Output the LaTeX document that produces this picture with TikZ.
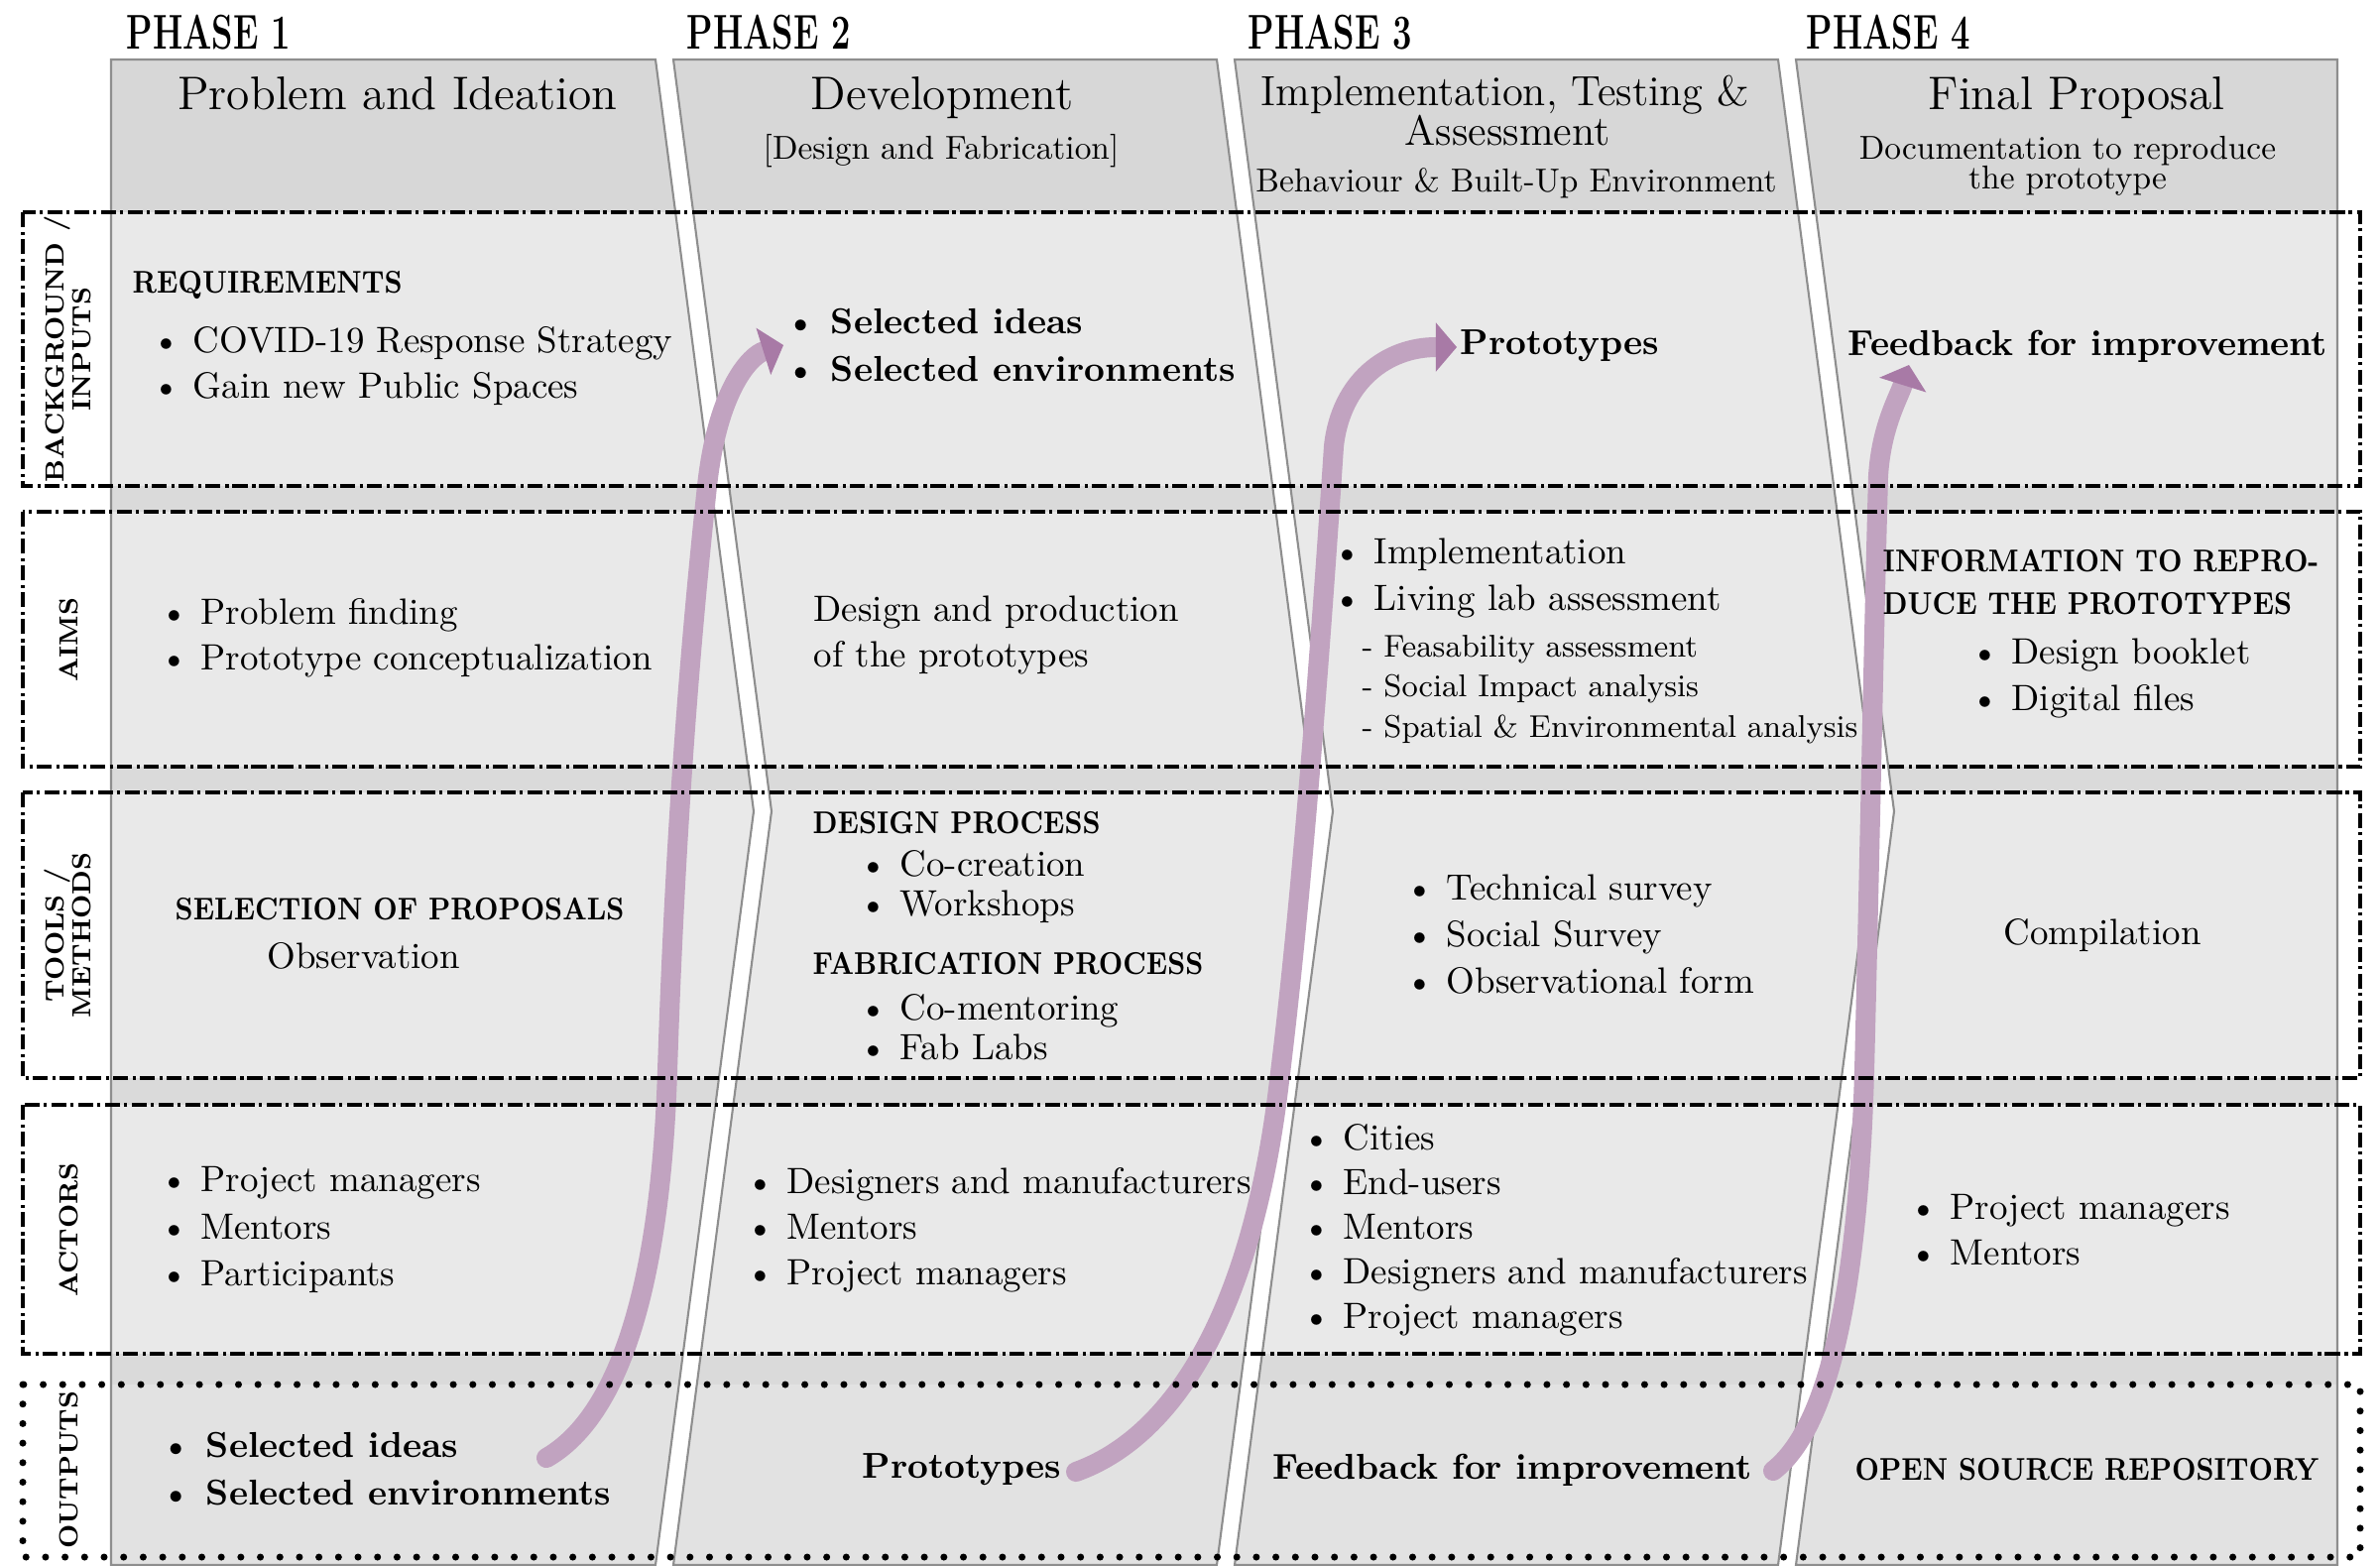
\documentclass[tikz,border=0pt]{standalone}
\usepackage{graphicx}
\usetikzlibrary{arrows.meta}

\definecolor{hdrgray}{HTML}{D7D7D7}
\definecolor{rowgray}{HTML}{E9E9E9}
\definecolor{bandgray}{HTML}{DADADA}
\definecolor{outgray}{HTML}{E2E2E2}
\definecolor{edgegray}{HTML}{8E8E8E}
\definecolor{shaftcol}{RGB}{193,163,192}
\definecolor{headcol}{RGB}{168,122,166}

\newcommand\bodyfont[1]{\fontsize{10.5}{#1}\selectfont}
\newcommand\boldfont[1]{\bfseries\fontsize{10.3}{#1}\selectfont}
\newcommand\capsfont[1]{\bfseries\fontsize{9}{#1}\selectfont}
% narrowed capitals
\newcommand\capsq[1]{\scalebox{0.87}[1]{#1}}
\newcommand\phasesq[1]{\scalebox{0.7}[1]{#1}}

\tikzset{
  dashdot/.style={line width=1pt, dash pattern=on 4.3pt off 1.4pt on 0.9pt off 1.1pt},
  dotline/.style={line width=2pt, line cap=round, dash pattern=on 0pt off 5.6pt},
  panel/.style={draw=edgegray, line width=0.6pt},
  flow/.style={draw=shaftcol, line width=5.7pt, line cap=round,
    -{Triangle[width=14pt,length=6pt,line width=0.4pt,fill=headcol,color=headcol]}},
  phase/.style={inner sep=0pt, anchor=base west, font=\bfseries\fontsize{14}{16}\selectfont},
  title/.style={inner sep=0pt, anchor=base, font=\fontsize{13.5}{15}\selectfont},
  titlethree/.style={inner sep=0pt, anchor=base, font=\fontsize{12.1}{14}\selectfont},
  subtitle/.style={inner sep=0pt, anchor=base, font=\fontsize{9.5}{11}\selectfont},
  rowlab/.style={inner sep=0pt, rotate=90, align=center, font=\bfseries\fontsize{7.5}{7.6}\selectfont},
  txt/.style={inner sep=0pt, anchor=west, align=left, font=\bodyfont{13.2pt}},
  btxt/.style={inner sep=0pt, anchor=west, align=left, font=\boldfont{13.7pt}},
  ctxt/.style={inner sep=0pt, anchor=west, align=left, font=\capsfont{12pt}},
  stxt/.style={inner sep=0pt, anchor=west, align=left, font=\fontsize{9}{11.5}\selectfont},
}

\begin{document}
\begin{tikzpicture}[x=0.01cm, y=-0.01cm]
\useasboundingbox (0,0) rectangle (2400,1578);
\fill[white] (0,0) rectangle (2400,1578);

% ---- the four phase columns, with chevron-shaped joints ----
\begin{scope}
  \clip (112,60) -- (661,60) -- (760,818) -- (661,1578) -- (112,1578) -- cycle
        (679,60) -- (1227,60) -- (1326,818) -- (1227,1578) -- (679,1578) -- (778,818) -- cycle
        (1245,60) -- (1793,60) -- (1892,818) -- (1793,1578) -- (1245,1578) -- (1344,818) -- cycle
        (1811,60) -- (2357,60) -- (2357,1578) -- (1811,1578) -- (1910,818) -- cycle;
  \fill[bandgray] (0,60) rectangle (2400,1578);
  \fill[hdrgray] (0,60) rectangle (2400,214);
  \fill[rowgray] (0,214) rectangle (2400,490);
  \fill[rowgray] (0,516) rectangle (2400,773);
  \fill[rowgray] (0,799) rectangle (2400,1087);
  \fill[rowgray] (0,1114) rectangle (2400,1365);
  \fill[outgray] (0,1396) rectangle (2400,1578);
\end{scope}
\path[panel] (112,60) -- (661,60) -- (760,818) -- (661,1578) -- (112,1578) -- cycle
        (679,60) -- (1227,60) -- (1326,818) -- (1227,1578) -- (679,1578) -- (778,818) -- cycle
        (1245,60) -- (1793,60) -- (1892,818) -- (1793,1578) -- (1245,1578) -- (1344,818) -- cycle
        (1811,60) -- (2357,60) -- (2357,1578) -- (1811,1578) -- (1910,818) -- cycle;

% ---- flow arrows from each output to the next phase's inputs ----
\coordinate (a1s) at (551,1470);
\coordinate (a1e) at (790,348);
\coordinate (a2s) at (1085,1484);
\coordinate (a2e) at (1469,350);
\coordinate (a3s) at (1788,1483);
\coordinate (a3e) at (1925,368);
\draw[flow] (a1s) .. controls (612,1435) and (665,1330) .. (673,1080)
  .. controls (681,830) and (697,640) .. (713,490)
  .. controls (724,390) and (758,358) .. (a1e);
\draw[flow] (a2s) .. controls (1180,1450) and (1262,1330) .. (1290,1090)
  .. controls (1315,890) and (1335,600) .. (1345,450)
  .. controls (1352,385) and (1398,350) .. (a2e);
\draw[flow] (a3s) .. controls (1837,1445) and (1873,1330) .. (1880,1080)
  .. controls (1885,880) and (1890,620) .. (1894,480)
  .. controls (1897,430) and (1915,400) .. (a3e);

% ---- row frames ----
\draw[dashdot] (23,214) rectangle (2380,490);
\draw[dashdot] (23,516) rectangle (2380,773);
\draw[dashdot] (23,799) rectangle (2380,1087);
\draw[dashdot] (23,1114) rectangle (2380,1365);
\draw[dotline] (23,1396) rectangle (2380,1570);

% ---- row labels ----
\node[rowlab] (lbin) at (68,352) {BACKGROUND /\\INPUTS};
\node[rowlab] (lbaim) at (69,645) {AIMS};
\node[rowlab] (lbtool) at (68,943) {TOOLS /\\METHODS};
\node[rowlab] (lbact) at (69,1240) {ACTORS};
\node[rowlab] (lbout) at (69,1482) {OUTPUTS};

% ---- phase headings ----
\node[phase] (ph1) at (127,49) {\phasesq{PHASE 1}};
\node[phase] (ph2) at (692,49) {\phasesq{PHASE 2}};
\node[phase] (ph3) at (1258,49) {\phasesq{PHASE 3}};
\node[phase] (ph4) at (1821,49) {\phasesq{PHASE 4}};

\node[title] (t1) at (401,110) {Problem and Ideation};
\node[title] (t2) at (950,110) {Development};
\node[titlethree] (t3a) at (1518,106) {Implementation, Testing \&};
\node[titlethree] (t3b) at (1520,146) {Assessment};
\node[title] (t4) at (2094,110) {Final Proposal};
\node[subtitle] (s2) at (949,160) {[Design and Fabrication]};
\node[subtitle] (s3) at (1529,193) {Behaviour \& Built-Up Environment};
\node[subtitle] (s4a) at (2085,160) {Documentation to reproduce};
\node[subtitle] (s4b) at (2085,190) {the prototype};

% ---- background / inputs ----
\node[ctxt] (req) at (133,288) {\capsq{REQUIREMENTS}};
\node[txt, font=\bodyfont{13.1pt}] (in1) at (153,369)
  {\textbullet\ COVID-19 Response Strategy\\\textbullet\ Gain new Public Spaces};
\node[btxt] (in2) at (791,348) {\textbullet\ Selected ideas\\\textbullet\ Selected environments};
\node[btxt] (in3) at (1472,349) {Prototypes};
\node[btxt] (in4) at (1863,349) {Feedback for improvement};

% ---- aims ----
\node[txt, font=\bodyfont{13.1pt}] (aim1) at (161,643)
  {\textbullet\ Problem finding\\\textbullet\ Prototype conceptualization};
\node[txt, font=\bodyfont{13.1pt}] (aim2) at (820,640) {Design and production\\of the prototypes};
\node[txt, font=\bodyfont{13.1pt}] (aim3a) at (1344,583)
  {\textbullet\ Implementation\\\textbullet\ Living lab assessment};
\node[stxt] (aim3b) at (1373,695)
  {- Feasability assessment\\- Social Impact analysis\\- Spatial \& Environmental analysis};
\node[ctxt] (aim4a) at (1898,587) {\capsq{INFORMATION TO REPRO-}\\\capsq{DUCE THE PROTOTYPES}};
\node[txt, font=\bodyfont{13.1pt}] (aim4b) at (1987,684)
  {\textbullet\ Design booklet\\\textbullet\ Digital files};

% ---- tools / methods ----
\node[ctxt] (tool1a) at (176,917) {\capsq{SELECTION OF PROPOSALS}};
\node[txt] (tool1b) at (269,964) {Observation};
\node[ctxt] (tool2a) at (819,830) {\capsq{DESIGN PROCESS}};
\node[txt, font=\bodyfont{11.4pt}] (tool2b) at (866,894)
  {\textbullet\ Co-creation\\\textbullet\ Workshops};
\node[ctxt] (tool2c) at (819,972) {\capsq{FABRICATION PROCESS}};
\node[txt, font=\bodyfont{11.4pt}] (tool2d) at (866,1036)
  {\textbullet\ Co-mentoring\\\textbullet\ Fab Labs};
\node[txt, font=\bodyfont{13.4pt}] (tool3) at (1417,942)
  {\textbullet\ Technical survey\\\textbullet\ Social Survey\\\textbullet\ Observational form};
\node[txt, anchor=center] (tool4) at (2120,943) {Compilation};

% ---- actors ----
\node[txt, font=\bodyfont{13.5pt}] (act1) at (161,1240)
  {\textbullet\ Project managers\\\textbullet\ Mentors\\\textbullet\ Participants};
\node[txt, font=\bodyfont{13.1pt}] (act2) at (752,1240)
  {\textbullet\ Designers and manufacturers\\\textbullet\ Mentors\\\textbullet\ Project managers};
\node[txt, font=\bodyfont{12.8pt}] (act3) at (1313,1240)
  {\textbullet\ Cities\\\textbullet\ End-users\\\textbullet\ Mentors\\\textbullet\ Designers and manufacturers\\\textbullet\ Project managers};
\node[txt, font=\bodyfont{13.1pt}] (act4) at (1925,1240)
  {\textbullet\ Project managers\\\textbullet\ Mentors};

% ---- outputs ----
\node[btxt] (out1) at (161,1481) {\textbullet\ Selected ideas\\\textbullet\ Selected environments};
\node[btxt] (out2) at (869,1482) {Prototypes};
\node[btxt] (out3) at (1283,1482) {Feedback for improvement};
\node[ctxt] (out4) at (1870,1482) {\capsq{OPEN SOURCE REPOSITORY}};
\end{tikzpicture}
\end{document}
